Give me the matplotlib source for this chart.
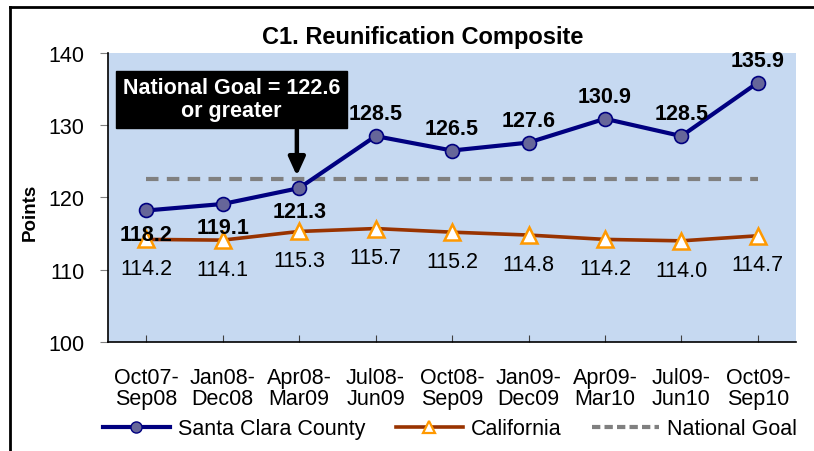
import numpy as np
import matplotlib
matplotlib.use("Agg")
import matplotlib.pyplot as plt
from matplotlib.lines import Line2D

plt.rcParams["font.family"] = ["Liberation Sans", "DejaVu Sans"]

periods = ["Oct07-\nSep08", "Jan08-\nDec08", "Apr08-\nMar09", "Jul08-\nJun09",
           "Oct08-\nSep09", "Jan09-\nDec09", "Apr09-\nMar10", "Jul09-\nJun10",
           "Oct09-\nSep10"]
santa_clara = [118.2, 119.1, 121.3, 128.5, 126.5, 127.6, 130.9, 128.5, 135.9]
california = [114.2, 114.1, 115.3, 115.7, 115.2, 114.8, 114.2, 114.0, 114.7]
national_goal = [122.6] * 9
# which Santa Clara labels sit below the point (Excel placement)
sc_below = [True, True, True, False, False, False, False, False, False]

x = np.arange(len(periods))
FS = 15.5

fig = plt.figure(figsize=(8.14, 4.52), dpi=100)
ax = fig.add_axes([0.1327, 0.2412, 0.8453, 0.6393])
ax.set_facecolor("#C6D9F1")

ax.plot(x, national_goal, color="#808080", lw=3, ls=(0, (3, 2)), zorder=2,
        label="National Goal")
ax.plot(x, california, color="#993300", lw=2.6, marker="^", ms=11,
        mfc="white", mec="#FF9900", mew=1.8, zorder=3, label="California")
ax.plot(x, santa_clara, color="#000080", lw=3, marker="o", ms=10,
        mfc="#666699", mec="#000080", mew=1.2, zorder=4, label="Santa Clara County")

for xi, v, below in zip(x, santa_clara, sc_below):
    ax.annotate(f"{v:.1f}", (xi, v), xytext=(0, -17 if below else 16),
                textcoords="offset points", ha="center", va="center",
                fontsize=FS, fontweight="bold", zorder=5)
for xi, v in zip(x, california):
    ax.annotate(f"{v:.1f}", (xi, v), xytext=(0, -21),
                textcoords="offset points", ha="center", va="center",
                fontsize=FS, zorder=5)

# goal callout
ax.text(1.115, 133.6, "National Goal = 122.6\nor greater", ha="center", va="center",
        fontsize=FS, fontweight="bold", color="white", linespacing=1.15,
        bbox=dict(boxstyle="square,pad=0.3", facecolor="black", edgecolor="black"),
        zorder=6)
ax.annotate("", xy=(1.97, 123.0), xytext=(1.97, 129.4),
            arrowprops=dict(arrowstyle="-|>,head_width=0.5,head_length=1.1",
                            color="black", lw=3.2, shrinkA=0, shrinkB=0), zorder=6)

ax.set_xlim(-0.5, len(periods) - 0.5)
ax.set_ylim(100, 140)
ax.set_yticks([100, 110, 120, 130, 140])
ax.set_xticks(x)
ax.set_xticklabels(periods, fontsize=FS, linespacing=1.0)
ax.tick_params(axis="x", direction="in", length=5, color="#404040", pad=18)
ax.tick_params(axis="y", direction="out", length=6, color="#808080", pad=11,
               labelsize=FS)
for s in ["top", "right"]:
    ax.spines[s].set_visible(False)
for s in ["left", "bottom"]:
    ax.spines[s].set_color("black")
    ax.spines[s].set_linewidth(1.2)

fig.text(0.519, 0.916, "C1. Reunification Composite", ha="center", va="center",
         fontsize=17, fontweight="bold")
fig.text(0.037, 0.53, "Points", ha="center", va="center", rotation=90,
         fontsize=13.5, fontweight="bold")

handles = [
    Line2D([], [], color="#000080", lw=3, marker="o", ms=8, mfc="#666699", mec="#000080"),
    Line2D([], [], color="#993300", lw=2.6, marker="^", ms=8, mfc="white", mec="#FF9900", mew=1.6),
    Line2D([], [], color="#808080", lw=3, ls=(0, (2, 1))),
]
fig.legend(handles, ["Santa Clara County", "California", "National Goal"],
           loc="center", bbox_to_anchor=(0.553, 0.049), ncol=3, frameon=False,
           fontsize=FS, handlelength=3.1, handletextpad=0.4, columnspacing=1.4,
           borderpad=0)

# outer frame (left and top edges visible)
fig.add_artist(Line2D([0.0123, 0.0123], [0, 0.983], color="black", lw=2,
                      transform=fig.transFigure))
fig.add_artist(Line2D([0.0123, 1.0], [0.983, 0.983], color="black", lw=2,
                      transform=fig.transFigure))

fig.savefig("out.png", dpi=100)
